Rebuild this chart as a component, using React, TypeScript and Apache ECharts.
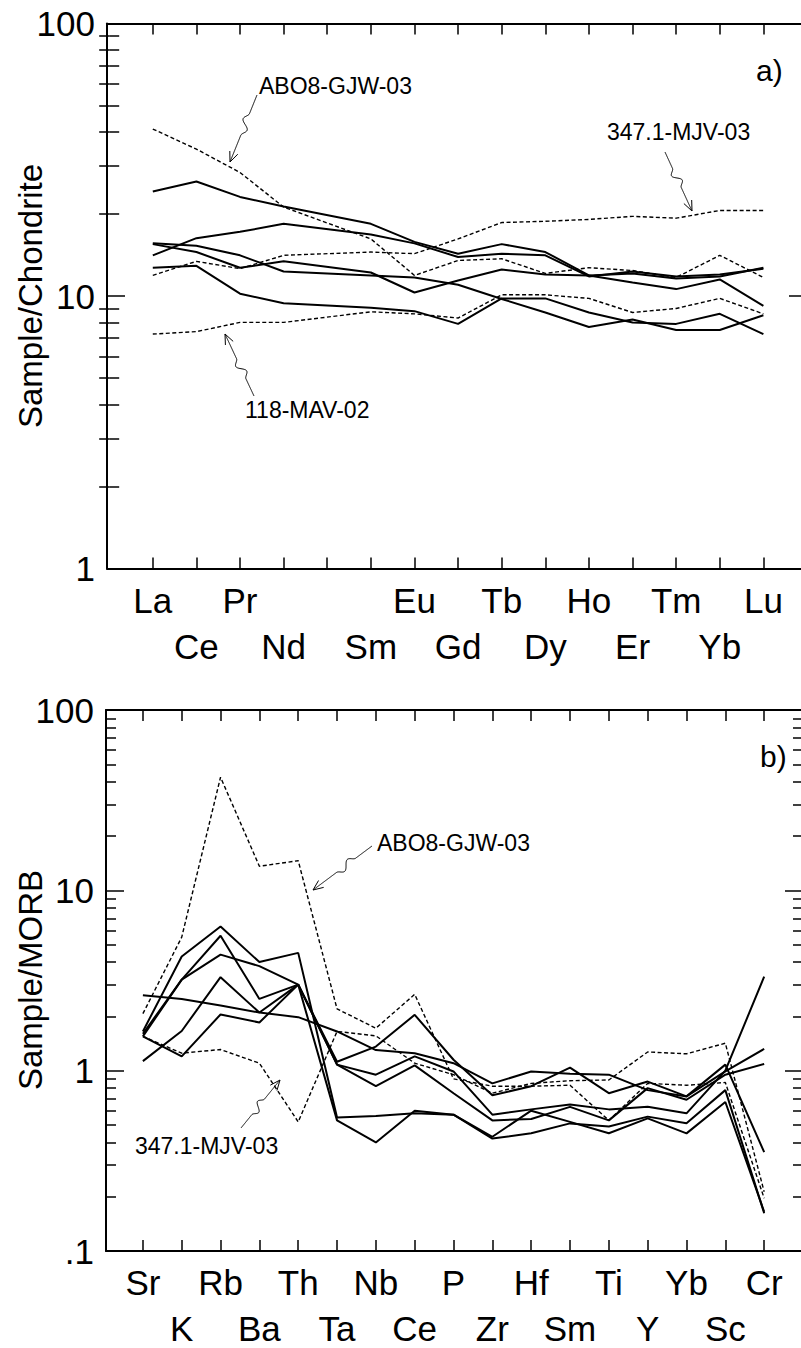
import React, { useEffect, useRef } from "react";
import * as echarts from "echarts";

// ---------- data: top panel (chondrite-normalised REE) ----------
const reeElements = ["La", "Ce", "Pr", "Nd", "Pm", "Sm", "Eu", "Gd", "Tb", "Dy", "Ho", "Er", "Tm", "Yb", "Lu"];
const reeTickLabels = ["La", "Ce", "Pr", "Nd", "", "Sm", "Eu", "Gd", "Tb", "Dy", "Ho", "Er", "Tm", "Yb", "Lu"];
const reeSolidA = [24.2, 26.3, 23.1, 21.3, null, 18.4, 15.8, 14.3, 15.5, 14.5, 11.9, 12.1, 11.6, 11.8, 12.7];
const reeSolidB = [14.1, 16.3, 17.2, 18.4, null, 16.8, 15.6, 13.9, 14.3, 14.1, 11.8, 12.3, 11.8, 12.0, 12.6];
const reeSolidC = [15.5, 14.5, 12.7, 13.4, null, 12.2, 10.3, 11.4, 12.5, 12.0, 11.9, 11.2, 10.6, 11.5, 9.2];
const reeSolidD = [15.6, 15.3, 14.1, 12.3, null, 11.9, 11.7, 11.0, 9.75, 8.7, 7.7, 8.2, 7.5, 7.5, 8.5];
const reeSolidE = [12.7, 12.9, 10.2, 9.4, null, 9.05, 8.8, 7.9, 9.8, 9.8, 8.7, 8.0, 7.9, 8.6, 7.25];
const reeABO8 = [41, 34.6, 28.4, 21.2, null, 16.2, 11.9, 13.5, 13.7, 12.1, 12.7, 12.4, 11.7, 14.1, 11.7];
const ree3471 = [11.9, 13.4, 12.6, 14.1, null, 14.5, 14.3, 16.2, 18.6, 18.8, 19.1, 19.6, 19.3, 20.6, 20.6];
const ree118 = [7.25, 7.4, 8.0, 8.0, null, 8.75, 8.6, 8.3, 10.1, 10.1, 9.8, 8.7, 9.0, 9.8, 8.6];

// ---------- data: bottom panel (MORB-normalised) ----------
const morbElements = ["Sr", "K", "Rb", "Ba", "Th", "Ta", "Nb", "Ce", "P", "Zr", "Hf", "Sm", "Ti", "Y", "Yb", "Sc", "Cr"];
const morbS1 = [2.62, 2.5, 2.3, 2.1, 1.98, 1.65, 1.3, 1.25, 1.1, 0.85, 0.99, 0.96, 0.95, 0.78, 0.72, 1.08, 0.353];
const morbS2 = [1.65, 4.3, 6.3, 4.0, 4.5, 0.55, 0.56, 0.58, 0.57, 0.42, 0.45, 0.51, 0.49, 0.556, 0.511, 0.78, 0.162];
const morbS3 = [1.6, 3.2, 5.6, 2.5, 3.0, 1.12, 1.36, 2.04, 1.15, 0.73, 0.82, 1.04, 0.75, 0.87, 0.72, 0.99, 1.32];
const morbS4 = [1.55, 3.2, 4.4, 3.8, 3.0, 0.53, 0.4, 0.6, 0.57, 0.43, 0.6, 0.52, 0.45, 0.544, 0.449, 0.67, 0.165];
const morbS5 = [1.55, 1.2, 2.05, 1.85, 3.0, 1.08, 0.95, 1.2, 0.99, 0.57, 0.61, 0.65, 0.61, 0.63, 0.58, 1.0, 3.32];
const morbS6 = [1.13, 1.66, 3.3, 2.1, 3.0, 1.08, 0.82, 1.07, 0.75, 0.53, 0.54, 0.63, 0.53, 0.8, 0.69, 0.95, 1.09];
const morbABO8 = [2.07, 5.5, 42.4, 13.6, 14.6, 2.2, 1.72, 2.65, 0.9, 0.82, 0.82, 0.83, 0.53, 0.85, 0.83, 0.86, 0.196];
const morb3471 = [1.55, 1.25, 1.31, 1.1, 0.52, 1.65, 1.56, 1.1, 0.95, 0.75, 0.85, 0.88, 0.888, 1.27, 1.24, 1.42, 0.213];

// ---------- axis ticks ----------
const topMajor = [1, 10, 100];
const topMinor = [2, 3, 4, 5, 6, 7, 8, 9, 20, 30, 40, 50, 60, 70, 80, 90];
const botMajor = [0.1, 1, 10, 100];
const botMinor = [0.2, 0.3, 0.4, 0.5, 0.6, 0.7, 0.8, 0.9, 2, 3, 4, 5, 6, 7, 8, 9, 20, 30, 40, 50, 60, 70, 80, 90];

const FONT = "'Liberation Sans', Arial, Helvetica, sans-serif";

// squiggly annotation arrows
function squigglePath(sx: number, sy: number, tx: number, ty: number, amp: number): string {
  const dx = tx - sx, dy = ty - sy;
  const len = Math.hypot(dx, dy);
  const ux = dx / len, uy = dy / len;
  const px = -uy, py = ux;
  const pts: string[] = [];
  const N = 120;
  for (let i = 0; i <= N; i++) {
    const t = i / N;
    let w = 0;
    if (t > 0.28 && t < 0.6) {
      const s = (t - 0.28) / 0.32;
      w = amp * Math.sin(s * Math.PI * 2) * Math.pow(Math.sin(s * Math.PI), 0.8);
    }
    const x = sx + dx * t + px * w;
    const y = sy + dy * t + py * w;
    pts.push((i === 0 ? "M" : "L") + x.toFixed(2) + " " + y.toFixed(2));
  }
  const hl = 11, ang = 0.4;
  const bx = -ux, by = -uy;
  const h1x = tx + hl * (bx * Math.cos(ang) - by * Math.sin(ang));
  const h1y = ty + hl * (bx * Math.sin(ang) + by * Math.cos(ang));
  const h2x = tx + hl * (bx * Math.cos(-ang) - by * Math.sin(-ang));
  const h2y = ty + hl * (bx * Math.sin(-ang) + by * Math.cos(-ang));
  pts.push(`M${h1x.toFixed(2)} ${h1y.toFixed(2)} L${tx} ${ty} L${h2x.toFixed(2)} ${h2y.toFixed(2)}`);
  return pts.join(" ");
}

const arrowDefs: [string, number, number, number, number, number][] = [
  ["arrowTopABO", 257, 95, 230, 162, 5],
  ["arrowTop347", 665, 152, 692, 211, 5],
  ["arrowTop118", 254, 396, 225, 334, 5],
  ["arrowBotABO", 372, 846, 313, 890, 5],
  ["arrowBot347", 241, 1128, 280, 1080, 5],
];
let registered = false;
function registerArrows() {
  if (registered) return;
  registered = true;
  for (const [name, sx, sy, tx, ty, amp] of arrowDefs) {
    echarts.graphic.registerShape(name, echarts.graphic.extendPath(squigglePath(sx, sy, tx, ty, amp), {}));
  }
}

function line(values: (number | null)[], xi: number, yi: number, dashed: boolean) {
  const data: [number, number][] = [];
  values.forEach((v, i) => {
    if (v != null) data.push([i + 1, v]);
  });
  return {
    type: "line",
    xAxisIndex: xi,
    yAxisIndex: yi,
    data,
    symbol: "none",
    silent: true,
    clip: true,
    z: dashed ? 3 : 2,
    lineStyle: { color: "#000", width: dashed ? 1.4 : 2, type: dashed ? [4, 2.5] : "solid" },
  };
}

function xAxes(grid: number, min: number, max: number, n: number, names: string[]) {
  const all = Array.from({ length: n }, (_, i) => i + 1);
  const odd = all.filter((v) => v % 2 === 1);
  const even = all.filter((v) => v % 2 === 0);
  const lbl = (vals: number[], margin: number) => ({
    show: true,
    customValues: vals,
    formatter: (v: number) => names[Math.round(v) - 1] || "",
    fontSize: 35,
    fontFamily: FONT,
    color: "#000",
    margin,
  });
  return [
    {
      type: "value", gridIndex: grid, min, max, position: "bottom",
      axisLine: { show: true, onZero: false, lineStyle: { color: "#000", width: 2 } },
      axisTick: { show: true, inside: true, length: 11, customValues: all, lineStyle: { color: "#000", width: 1.5 } },
      axisLabel: lbl(odd, 14),
      splitLine: { show: false },
    },
    {
      type: "value", gridIndex: grid, min, max, position: "bottom",
      axisLine: { show: false }, axisTick: { show: false },
      axisLabel: lbl(even, 60),
      splitLine: { show: false },
    },
    {
      type: "value", gridIndex: grid, min, max, position: "top",
      axisLine: { show: true, onZero: false, lineStyle: { color: "#000", width: 2 } },
      axisTick: { show: true, inside: true, length: 11, customValues: all, lineStyle: { color: "#000", width: 1.5 } },
      axisLabel: { show: false },
      splitLine: { show: false },
    },
  ];
}

function yAxes(grid: number, min: number, max: number, major: number[], minor: number[]) {
  const base = { type: "log", logBase: 10, gridIndex: grid, min, max, splitLine: { show: false } };
  const fmt = (v: number) => (v < 0.5 ? ".1" : String(Math.round(v)));
  return [
    {
      ...base, position: "left",
      axisLine: { show: true, onZero: false, lineStyle: { color: "#000", width: 2 } },
      axisTick: { show: true, inside: true, length: 18, customValues: major, lineStyle: { color: "#000", width: 1.5 } },
      axisLabel: { show: true, customValues: major, formatter: fmt, fontSize: 35, fontFamily: FONT, color: "#000", margin: 12 },
    },
    {
      ...base, position: "left",
      axisLine: { show: false },
      axisTick: { show: true, inside: true, length: 10, customValues: minor, lineStyle: { color: "#000", width: 1.5 } },
      axisLabel: { show: false },
    },
    {
      ...base, position: "right",
      axisLine: { show: true, onZero: false, lineStyle: { color: "#000", width: 2 } },
      axisTick: { show: true, inside: true, length: 18, customValues: major, lineStyle: { color: "#000", width: 1.5 } },
      axisLabel: { show: false },
    },
    {
      ...base, position: "right",
      axisLine: { show: false },
      axisTick: { show: true, inside: true, length: 10, customValues: minor, lineStyle: { color: "#000", width: 1.5 } },
      axisLabel: { show: false },
    },
  ];
}

function txt(text: string, x: number, y: number, size: number, extra: any = {}, rotation = 0) {
  return {
    type: "text", x, y, rotation, silent: true,
    style: { text, fontSize: size, fontFamily: FONT, fill: "#000", textAlign: "left", textVerticalAlign: "middle", ...extra },
  };
}

export default function App() {
  const ref = useRef<HTMLDivElement>(null);
  useEffect(() => {
    if (!ref.current) return;
    registerArrows();
    const chart = echarts.init(ref.current, undefined, { renderer: "svg" });
    const arrowGraphics = arrowDefs.map(([name]) => ({
      type: name, x: 0, y: 0, silent: true,
      style: { stroke: "#000", fill: null, lineWidth: 1 },
    }));
    chart.setOption({
      animation: false,
      backgroundColor: "#fff",
      grid: [
        { left: 107, top: 23.5, width: 700, height: 545, outerBoundsMode: "none", containLabel: false },
        { left: 106, top: 710, width: 697, height: 541, outerBoundsMode: "none", containLabel: false },
      ],
      xAxis: [
        ...xAxes(0, -0.05, 16, reeElements.length, reeTickLabels),
        ...xAxes(1, 0.05, 18, morbElements.length, morbElements),
      ],
      yAxis: [
        ...yAxes(0, 1, 100, topMajor, topMinor),
        ...yAxes(1, 0.1, 100, botMajor, botMinor),
      ],
      series: [
        line(reeSolidA, 0, 0, false),
        line(reeSolidB, 0, 0, false),
        line(reeSolidC, 0, 0, false),
        line(reeSolidD, 0, 0, false),
        line(reeSolidE, 0, 0, false),
        line(reeABO8, 0, 0, true),
        line(ree3471, 0, 0, true),
        line(ree118, 0, 0, true),
        line(morbS1, 3, 4, false),
        line(morbS2, 3, 4, false),
        line(morbS3, 3, 4, false),
        line(morbS4, 3, 4, false),
        line(morbS5, 3, 4, false),
        line(morbS6, 3, 4, false),
        line(morbABO8, 3, 4, true),
        line(morb3471, 3, 4, true),
      ],
      graphic: [
        txt("Sample/Chondrite", 30, 296, 33, { textAlign: "center" }, Math.PI / 2),
        txt("Sample/MORB", 30, 980, 33, { textAlign: "center" }, Math.PI / 2),
        txt("ABO8-GJW-03", 259, 86, 23),
        txt("347.1-MJV-03", 607, 132, 23),
        txt("118-MAV-02", 245, 410, 23),
        txt("a)", 756, 70, 30),
        txt("ABO8-GJW-03", 377, 843, 23),
        txt("347.1-MJV-03", 135, 1146, 23),
        txt("b)", 760, 756, 30),
        ...arrowGraphics,
      ],
    });
    return () => chart.dispose();
  }, []);
  return <div ref={ref} style={{ position: "absolute", left: 0, top: 0, width: 801, height: 1348, background: "#fff" }} />;
}
